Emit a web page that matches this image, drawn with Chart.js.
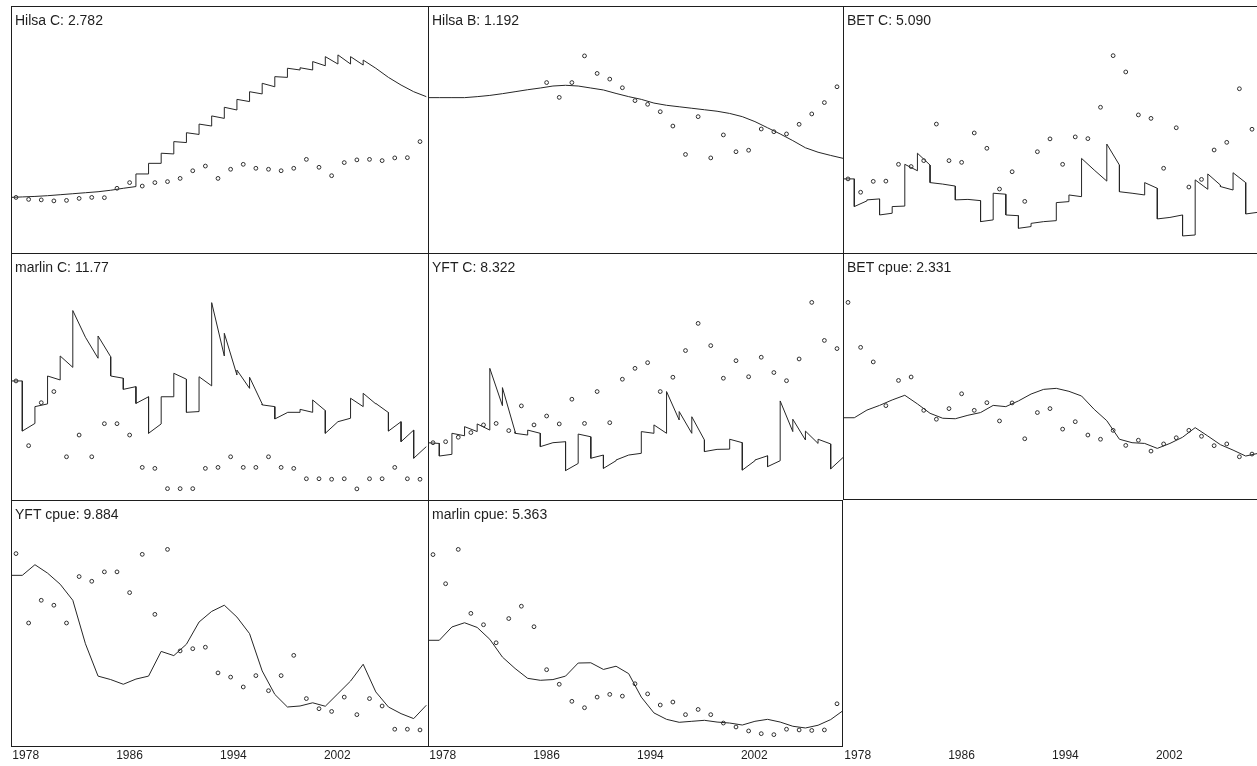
<!DOCTYPE html>
<html>
<head>
<meta charset="utf-8">
<script src="https://cdn.jsdelivr.net/npm/chart.js@4/dist/chart.umd.min.js"></script>
<style>
  html, body { margin: 0; padding: 0; background: #ffffff; }
  #board { position: relative; width: 1257px; height: 766px; overflow: hidden; background: #fff; }
  #board canvas { position: absolute; }
</style>
</head>
<body>
<div id="board"></div>
<script>
// ---- time axis -------------------------------------------------------
const years = [1977, 1978, 1979, 1980, 1981, 1982, 1983, 1984, 1985, 1986, 1987,
               1988, 1989, 1990, 1991, 1992, 1993, 1994, 1995, 1996, 1997, 1998,
               1999, 2000, 2001, 2002, 2003, 2004, 2005, 2006, 2007, 2008, 2009];
const tickYears = [1978, 1986, 1994, 2002];

// ---- panel titles ----------------------------------------------------
const panelTitles = ['Hilsa C: 2.782', 'Hilsa B: 1.192', 'BET C: 5.090',
                     'marlin C: 11.77', 'YFT C: 8.322', 'BET cpue: 2.331',
                     'YFT cpue: 9.884', 'marlin cpue: 5.363'];

// ---- observed series (relative level, 0-100) --------------------------
const hilsaCObs = [22.5, 21.7, 21.5, 21.1, 21.3, 22.1, 22.5, 22.4, 26.2, 28.5, 27.1, 28.5, 28.9, 30.2, 33.3, 35.2, 30.2,
                   33.9, 35.9, 34.3, 33.9, 33.3, 34.3, 37.9, 34.7, 31.3, 36.6, 37.7, 37.9, 37.4, 38.5, 38.6, 45.1];
const hilsaBObs = [null, null, null, null, null, null, null, null, null, 69.0, 63.0, 69.0, 79.8, 72.7, 70.4, 66.9, 61.7,
                   60.2, 57.2, 51.4, 39.9, 55.2, 38.5, 47.8, 41.0, 41.6, 50.2, 49.1, 48.2, 52.1, 56.3, 60.9, 67.3];
const betCObs = [30.0, 24.6, 29.0, 29.1, 35.9, 35.0, 37.4, 52.2, 37.4, 36.7, 48.6, 42.4, 25.9, 32.9, 20.9, 41.0, 46.2,
                 35.9, 47.0, 46.3, 59.0, 79.9, 73.3, 55.9, 54.5, 34.3, 50.7, 26.7, 29.8, 41.7, 44.8, 66.5, 50.1];
const marlinCObs = [48.2, 22.0, 39.4, 43.9, 17.5, 26.3, 17.5, 30.9, 30.9, 26.3, 13.2, 12.8, 4.6, 4.6, 4.6, 12.8, 13.2,
                    17.5, 13.2, 13.2, 17.5, 13.2, 12.8, 8.6, 8.6, 8.4, 8.6, 4.5, 8.6, 8.6, 13.2, 8.6, 8.4];
const yftCObs = [23.2, 23.6, 25.4, 27.3, 30.4, 31.0, 28.1, 38.1, 30.4, 34.0, 30.8, 40.8, 31.0, 43.9, 31.3, 48.9, 53.3,
                 55.6, 43.9, 49.7, 60.5, 71.5, 62.5, 49.3, 56.4, 49.9, 57.8, 51.6, 48.3, 57.1, 80.0, 64.6, 61.3];
const betCpueObs = [80.0, 61.8, 55.9, 38.2, 48.4, 49.8, 36.3, 32.7, 37.0, 43.0, 36.3, 39.4, 32.0, 39.3, 24.8, 35.4, 37.0,
                    28.7, 31.7, 26.3, 24.6, 28.2, 22.1, 24.2, 19.8, 22.7, 25.2, 28.2, 25.8, 22.0, 22.7, 17.5, 18.6];
const yftCpueObs = [78.3, 50.2, 59.4, 57.4, 50.2, 69.0, 67.1, 70.9, 70.9, 62.5, 78.0, 53.7, 80.0, 38.9, 39.8, 40.4, 30.0,
                    28.3, 24.3, 28.9, 22.8, 28.9, 37.1, 19.6, 15.5, 14.4, 20.2, 13.1, 19.6, 16.6, 7.2, 7.2, 6.9];
const marlinCpueObs = [77.9, 66.1, 80.0, 54.1, 49.5, 42.2, 52.0, 57.0, 48.7, 31.3, 25.4, 18.5, 15.9, 20.2, 21.3, 20.6, 25.6,
                       21.5, 17.0, 18.2, 13.1, 15.2, 13.1, 9.7, 8.1, 6.5, 5.4, 5.0, 7.2, 6.9, 6.7, 6.9, 17.5];

// ---- model fit, catch series: level at start and end of each year -----
const hilsaCFitStart = [22.5, 22.7, 22.9, 23.2, 23.6, 24.0, 24.4, 24.8, 25.4, 26.2, 32.0, 36.3, 40.4, 45.1, 48.7, 52.2, 55.5,
                        59.0, 62.2, 65.3, 68.7, 71.4, 74.8, 75.0, 77.5, 79.5, 80.2, 79.5, 78.1, 74.8, 71.1, 68.0, 65.3];
const hilsaCFitEnd   = [22.7, 22.9, 23.2, 23.6, 24.0, 24.4, 24.8, 25.4, 26.2, 26.9, 32.0, 36.3, 40.1, 44.7, 48.0, 51.4, 54.5,
                        57.9, 61.3, 64.4, 67.3, 71.1, 74.1, 74.1, 75.8, 76.5, 76.5, 76.1, 74.8, 71.1, 68.0, 65.3, 63.3];
const betCFitStart = [30.0, 18.8, 21.5, 15.4, 18.8, 35.9, 40.4, 28.5, 27.9, 21.5, 21.7, 12.7, 24.2, 15.4, 10.0, 12.0, 12.7,
                      20.4, 23.5, 38.3, 33.6, 44.1, 24.8, 24.2, 28.5, 13.8, 14.4, 6.9, 29.6, 32.0, 26.9, 32.5, 15.8];
const betCFitEnd   = [30.0, 21.1, 21.9, 16.1, 19.0, 33.3, 35.6, 27.9, 27.1, 21.7, 21.2, 13.4, 23.8, 15.1, 10.7, 12.7, 13.1,
                      20.8, 22.8, 33.6, 29.1, 35.6, 24.2, 23.5, 26.2, 14.4, 15.4, 7.3, 25.8, 27.5, 25.5, 28.5, 16.5];
const marlinCFitStart = [48.2, 27.9, 37.8, 50.2, 58.3, 76.7, 65.9, 66.4, 50.2, 44.8, 39.1, 27.0, 41.8, 51.3, 35.5, 49.9, 79.9,
                         67.5, 52.6, 49.7, 38.5, 32.8, 35.5, 36.7, 40.5, 27.0, 31.7, 41.2, 43.2, 39.1, 27.9, 23.6, 16.9];
const marlinCFitEnd   = [48.2, 31.0, 38.9, 48.6, 53.7, 65.9, 57.4, 58.0, 49.3, 45.9, 41.8, 30.8, 41.8, 48.9, 35.8, 46.2, 58.3,
                         50.6, 45.2, 38.9, 37.8, 35.4, 35.5, 35.5, 36.2, 31.7, 33.1, 37.8, 38.9, 35.4, 31.7, 28.3, 21.6];
const yftCFitStart = [23.2, 17.8, 27.0, 29.7, 30.8, 53.3, 45.5, 27.0, 28.3, 21.6, 23.2, 11.9, 26.7, 16.9, 12.8, 16.2, 18.2,
                      27.7, 30.4, 43.9, 35.8, 33.7, 19.6, 20.5, 24.6, 12.1, 16.2, 13.5, 40.1, 32.7, 27.9, 24.6, 12.6];
const yftCFitEnd   = [22.9, 18.5, 26.0, 27.7, 28.3, 38.2, 27.7, 26.3, 27.0, 23.2, 23.6, 14.8, 25.6, 18.2, 15.9, 18.2, 18.9,
                      27.0, 27.0, 32.4, 27.0, 24.3, 20.5, 20.6, 23.2, 15.9, 17.9, 15.9, 27.7, 24.3, 22.9, 22.7, 17.3];

// ---- model fit, smooth series: level at each year boundary -------------
const hilsaBFit = [62.9, 62.9, 62.9, 62.9, 63.3, 63.8, 64.5, 65.3, 66.1, 66.8, 67.6, 67.9, 67.6, 66.8, 66.0, 64.6, 63.3,
                   62.2, 60.7, 59.8, 59.2, 58.6, 58.0, 57.4, 56.5, 55.2, 53.2, 50.7, 48.2, 45.5, 42.6, 40.8, 39.5, 38.3];
const betCpueFit = [33.3, 33.3, 36.4, 38.3, 40.5, 42.4, 38.9, 35.1, 33.1, 32.9, 34.3, 35.4, 38.3, 37.8, 40.1, 42.9, 44.8,
                    45.2, 44.0, 42.1, 36.7, 32.1, 24.6, 23.2, 22.9, 20.9, 22.9, 25.4, 29.3, 25.9, 22.4, 20.2, 17.8, 18.9];
const yftCpueFit = [69.5, 69.5, 73.8, 70.4, 65.9, 59.4, 41.8, 28.7, 27.3, 25.4, 27.5, 28.7, 38.7, 37.0, 41.6, 50.6, 54.9,
                    57.4, 52.6, 45.9, 30.8, 21.3, 16.2, 16.6, 17.9, 16.5, 21.6, 26.7, 33.5, 22.3, 16.2, 13.5, 11.5, 16.9];
const marlinCpueFit = [43.2, 43.2, 48.6, 50.3, 48.4, 43.6, 36.4, 31.8, 27.8, 27.0, 27.3, 28.7, 34.0, 34.1, 31.4, 32.7, 29.7,
                       20.2, 13.8, 11.2, 10.0, 10.4, 10.8, 10.1, 9.7, 8.9, 10.4, 11.2, 10.1, 8.4, 7.7, 8.8, 11.1, 14.8];

// ---- helpers turning the series into {x,y} data ----------------------
function obsPoints(values) {
  const out = [];
  values.forEach((v, i) => { if (v !== null) out.push({ x: years[i], y: v }); });
  return out;
}
// catch fit: each year runs from mid-year boundary to the next, steps at boundaries
function stepLine(start, end) {
  const out = [];
  years.forEach((yr, i) => {
    out.push({ x: yr - 0.5, y: start[i] });
    out.push({ x: yr + 0.5, y: end[i] });
  });
  return out;
}
// smooth fit: one value at every year boundary
function boundaryLine(values) {
  const bounds = years.map(y => y - 0.5).concat([years[years.length - 1] + 0.5]);
  return values.map((v, k) => ({ x: bounds[k], y: v }));
}

// ---- grid layout -----------------------------------------------------
const colX = [11, 428, 843];
const colW = [417, 415, 414];
const rowY = [6, 253, 500];
const rowH = 247;
const labelBand = 19;
const yearPx = 12.625;      // data axis spacing
const labelPx = 12.98;      // tick-label axis spacing
const dataMin = years[0] - 0.396;
const labelMin = tickYears[0] - 1.133;

const INK = '#1e1e1e';
const LINE = '#262626';

const panels = [
  { title: panelTitles[0], row: 0, col: 0, obs: hilsaCObs, fit: stepLine(hilsaCFitStart, hilsaCFitEnd), sides: 'tl' },
  { title: panelTitles[1], row: 0, col: 1, obs: hilsaBObs, fit: boundaryLine(hilsaBFit), sides: 'tl' },
  { title: panelTitles[2], row: 0, col: 2, obs: betCObs, fit: stepLine(betCFitStart, betCFitEnd), sides: 'tl' },
  { title: panelTitles[3], row: 1, col: 0, obs: marlinCObs, fit: stepLine(marlinCFitStart, marlinCFitEnd), sides: 'tl' },
  { title: panelTitles[4], row: 1, col: 1, obs: yftCObs, fit: stepLine(yftCFitStart, yftCFitEnd), sides: 'tl' },
  { title: panelTitles[5], row: 1, col: 2, obs: betCpueObs, fit: boundaryLine(betCpueFit), sides: 'tlb' },
  { title: panelTitles[6], row: 2, col: 0, obs: yftCpueObs, fit: boundaryLine(yftCpueFit), sides: 'tlb', labels: true },
  { title: panelTitles[7], row: 2, col: 1, obs: marlinCpueObs, fit: boundaryLine(marlinCpueFit), sides: 'tlbr', labels: true },
  { title: null, row: 2, col: 2, obs: null, fit: null, sides: '', labels: true }
];

// frame lines and panel caption
const framePlugin = {
  id: 'frame',
  afterDraw(chart, args, opts) {
    const { ctx, chartArea: a } = chart;
    const s = opts.sides || '';
    ctx.save();
    ctx.strokeStyle = INK;
    ctx.lineWidth = 1;
    ctx.beginPath();
    if (s.includes('t')) { ctx.moveTo(a.left, a.top + 0.5); ctx.lineTo(a.right, a.top + 0.5); }
    if (s.includes('l')) { ctx.moveTo(a.left + 0.5, a.top); ctx.lineTo(a.left + 0.5, a.bottom); }
    if (s.includes('b')) { ctx.moveTo(a.left, a.bottom - 0.5); ctx.lineTo(a.right, a.bottom - 0.5); }
    if (s.includes('r')) { ctx.moveTo(a.right - 0.5, a.top); ctx.lineTo(a.right - 0.5, a.bottom); }
    ctx.stroke();
    if (opts.caption) {
      ctx.fillStyle = INK;
      ctx.font = '14px "Liberation Sans", Arial, sans-serif';
      ctx.textBaseline = 'alphabetic';
      ctx.textAlign = 'left';
      ctx.fillText(opts.caption, a.left + 4, a.top + 19);
    }
    ctx.restore();
  }
};

const board = document.getElementById('board');

panels.forEach(p => {
  const w = colW[p.col];
  const h = rowH + (p.labels ? labelBand : 0);
  const canvas = document.createElement('canvas');
  canvas.width = w;
  canvas.height = h;
  canvas.style.left = colX[p.col] + 'px';
  canvas.style.top = rowY[p.row] + 'px';
  canvas.style.width = w + 'px';
  canvas.style.height = h + 'px';
  board.appendChild(canvas);

  const datasets = [];
  if (p.fit) {
    datasets.push({
      data: p.fit, showLine: true, borderColor: LINE, borderWidth: 1,
      pointRadius: 0, tension: 0, fill: false, order: 2
    });
  }
  if (p.obs) {
    datasets.push({
      data: obsPoints(p.obs), showLine: false, pointStyle: 'circle',
      pointRadius: 1.9, pointBorderWidth: 1, pointBorderColor: '#2e2e2e',
      pointBackgroundColor: 'rgba(255,255,255,0)', order: 1
    });
  }

  const labelAxis = {
    type: 'linear', axis: 'x', position: 'bottom', display: !!p.labels,
    min: labelMin, max: labelMin + w / labelPx,
    grid: { display: false, drawTicks: false }, border: { display: false },
    afterBuildTicks: s => { s.ticks = tickYears.map(v => ({ value: v })); },
    ticks: {
      autoSkip: false, maxRotation: 0, padding: 1, color: INK,
      font: { family: '"Liberation Sans", Arial, sans-serif', size: 12 },
      callback: v => String(v)
    }
  };
  if (p.labels) labelAxis.afterFit = s => { s.height = labelBand; };

  new Chart(canvas, {
    type: 'scatter',
    data: { datasets },
    options: {
      responsive: false,
      animation: false,
      events: [],
      devicePixelRatio: 1,
      layout: { padding: 0, autoPadding: false },
      plugins: {
        legend: { display: false },
        tooltip: { enabled: false },
        frame: { sides: p.sides, caption: p.title }
      },
      scales: {
        x: { type: 'linear', display: false, min: dataMin, max: dataMin + w / yearPx },
        y: { type: 'linear', display: false, min: 0, max: 100 },
        xt: labelAxis
      }
    },
    plugins: [framePlugin]
  });
});
</script>
</body>
</html>
